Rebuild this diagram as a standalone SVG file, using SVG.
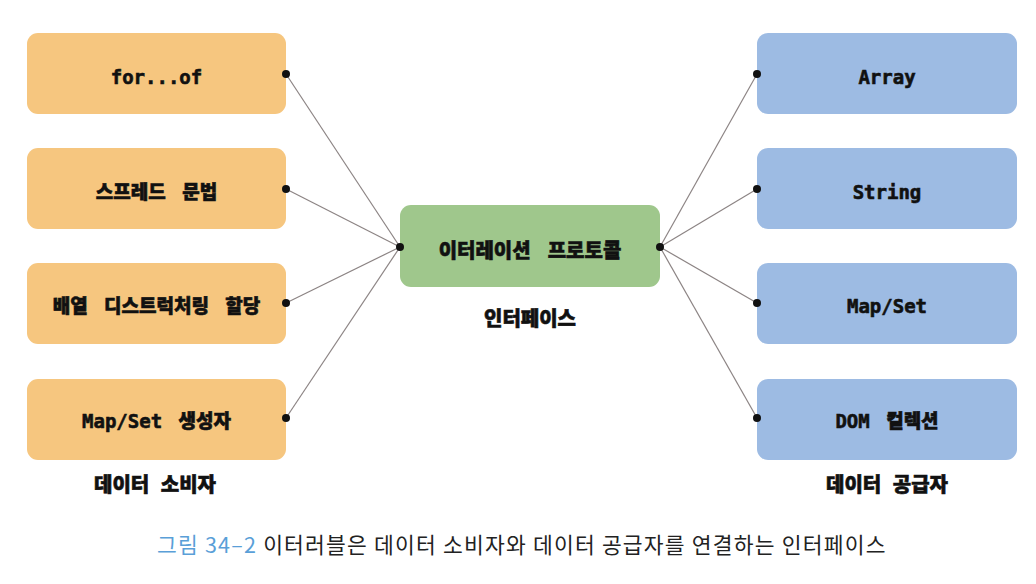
<svg xmlns="http://www.w3.org/2000/svg" width="1036" height="584" viewBox="0 0 1036 584">
<style>
.consumer{fill:#f6c67f}
.provider{fill:#9dbbe3}
.proto{fill:#9fc78c}
.lbl{font-family:"DejaVu Sans Mono","Noto Sans CJK KR",monospace;font-weight:900;font-size:19px;fill:#111;stroke:#111;stroke-width:0.6;text-anchor:middle;word-spacing:5px}
.cap{font-family:"Noto Sans CJK KR","Noto Sans",sans-serif;font-weight:900;font-size:20px;fill:#111;stroke:#111;stroke-width:0.6;text-anchor:middle;word-spacing:7px}
.conn{stroke:#8c8484;stroke-width:1.2;fill:none}
.dot{fill:#111}
.caption{font-family:"Noto Sans CJK KR","Liberation Sans",sans-serif;font-size:21.5px;letter-spacing:1.2px;fill:#222}
</style>
<rect width="1036" height="584" fill="#ffffff"/>
<g id="connectors">
<line class="conn" x1="286" y1="74" x2="400" y2="247"/>
<line class="conn" x1="286" y1="189" x2="400" y2="247"/>
<line class="conn" x1="286" y1="303" x2="400" y2="247"/>
<line class="conn" x1="286" y1="418" x2="400" y2="247"/>
<line class="conn" x1="660" y1="247" x2="757" y2="74"/>
<line class="conn" x1="660" y1="247" x2="757" y2="189"/>
<line class="conn" x1="660" y1="247" x2="757" y2="303"/>
<line class="conn" x1="660" y1="247" x2="757" y2="418"/>
</g>
<g id="node-forof">
<rect class="consumer" x="27" y="33" width="259" height="81" rx="11"/>
<text class="lbl" x="156.5" y="84">for...of</text>
<circle class="dot" cx="286" cy="74" r="4"/>
</g>
<g id="node-spread">
<rect class="consumer" x="27" y="148" width="259" height="81" rx="11"/>
<text class="lbl" x="156.5" y="199">스프레드 문법</text>
<circle class="dot" cx="286" cy="189" r="4"/>
</g>
<g id="node-destructuring">
<rect class="consumer" x="27" y="263" width="259" height="81" rx="11"/>
<text class="lbl" x="156.5" y="313">배열 디스트럭처링 할당</text>
<circle class="dot" cx="286" cy="303" r="4"/>
</g>
<g id="node-mapset-ctor">
<rect class="consumer" x="27" y="379" width="259" height="81" rx="11"/>
<text class="lbl" x="156.5" y="428">Map/Set 생성자</text>
<circle class="dot" cx="286" cy="418" r="4"/>
</g>
<g id="label-consumer">
<text class="cap" x="155" y="492">데이터 소비자</text>
</g>
<g id="node-protocol">
<rect class="proto" x="400" y="205" width="260" height="82" rx="11"/>
<text class="lbl" x="530" y="258" style="font-size:20px">이터레이션 프로토콜</text>
<circle class="dot" cx="400" cy="247" r="4"/>
<circle class="dot" cx="660" cy="247" r="4"/>
</g>
<g id="label-interface">
<text class="cap" x="530" y="326">인터페이스</text>
</g>
<g id="node-array">
<rect class="provider" x="757" y="33" width="260" height="81" rx="11"/>
<text class="lbl" x="887" y="84">Array</text>
<circle class="dot" cx="757" cy="74" r="4"/>
</g>
<g id="node-string">
<rect class="provider" x="757" y="148" width="260" height="81" rx="11"/>
<text class="lbl" x="887" y="199">String</text>
<circle class="dot" cx="757" cy="189" r="4"/>
</g>
<g id="node-mapset">
<rect class="provider" x="757" y="263" width="260" height="81" rx="11"/>
<text class="lbl" x="887" y="313">Map/Set</text>
<circle class="dot" cx="757" cy="303" r="4"/>
</g>
<g id="node-dom">
<rect class="provider" x="757" y="379" width="260" height="81" rx="11"/>
<text class="lbl" x="887" y="428">DOM 컬렉션</text>
<circle class="dot" cx="757" cy="418" r="4"/>
</g>
<g id="label-provider">
<text class="cap" x="887" y="492">데이터 공급자</text>
</g>
<g id="caption">
<text class="caption" x="157" y="553"><tspan fill="#5a9fd8">그림 34–2</tspan> 이터러블은 데이터 소비자와 데이터 공급자를 연결하는 인터페이스</text>
</g>
</svg>
